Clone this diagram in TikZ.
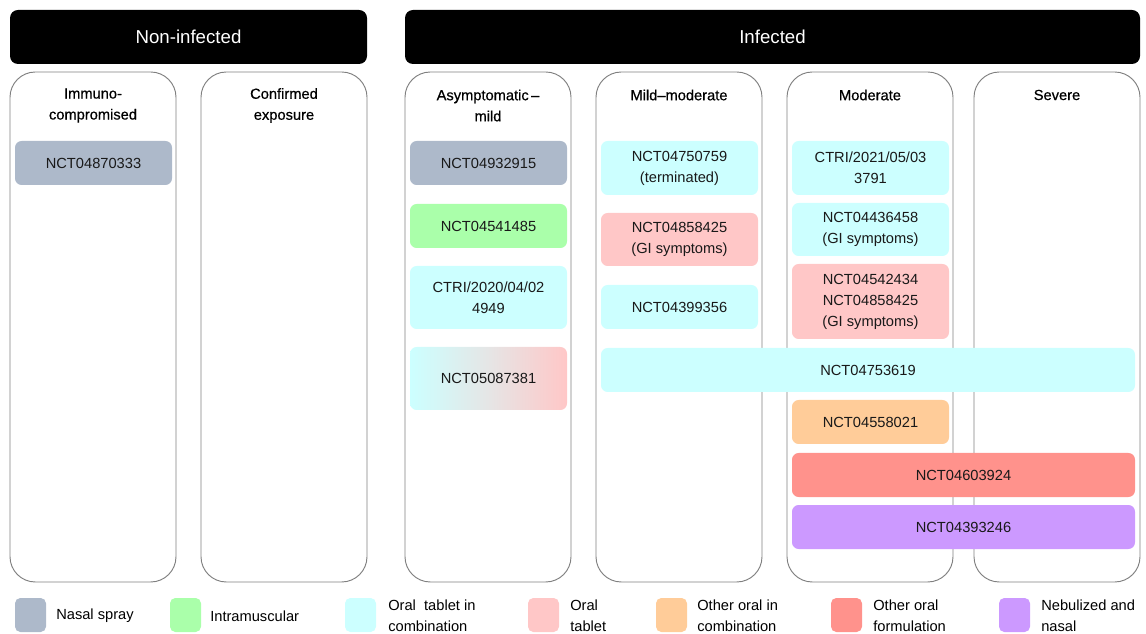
\documentclass[tikz,border=0pt]{standalone}
\usepackage{fontspec}
\setmainfont{Liberation Sans}
\newfontfamily\titlefont[FakeBold=0.6,Ligatures=TeX]{Liberation Sans}
\definecolor{cgray}{HTML}{ADB9CA}
\definecolor{cgreen}{HTML}{AAFFAA}
\definecolor{ccyan}{HTML}{CCFFFF}
\definecolor{cpink}{HTML}{FFC7C7}
\definecolor{corange}{HTML}{FFCC99}
\definecolor{cred}{HTML}{FF928C}
\definecolor{cpurple}{HTML}{CC99FF}
\definecolor{cborder}{HTML}{7F7F7F}
\tikzset{
  sz/.style 2 args={minimum width=#1*0.75pt, minimum height=#2*0.75pt},
  header/.style={fill=black, rounded corners=6pt, text=white, inner sep=0pt, font=\fontsize{14}{17}\selectfont},
  col/.style={draw=cborder, line width=0.7pt, rounded corners=19pt, inner sep=0pt, sz={166}{510}},
  ctitle/.style={align=center, font=\titlefont\fontsize{11}{15.75}\selectfont},
  bx/.style={rounded corners=5pt, inner sep=0pt, align=center, text=black!90, font=\fontsize{11}{15.75}\selectfont},
  swatch/.style={rounded corners=4pt, inner sep=0pt, sz={31}{34}},
  leg/.style={anchor=west, align=left, inner sep=0pt, font=\fontsize{11}{15.75}\selectfont}
}
\begin{document}
\begin{tikzpicture}[x=0.75pt,y=-0.75pt]
\useasboundingbox (0,0) rectangle (1146,634);
% headers
\node[header, sz={357}{54}] (hnon) at (188.5,37) {Non-infected};
\node[header, sz={735}{54}] (hinf) at (772.5,37) {Infected};
% columns
\node[col] (c1) at (93,327) {};
\node[col] (c2) at (284,327) {};
\node[col] (c3) at (488,327) {};
\node[col] (c4) at (679,327) {};
\node[col] (c5) at (870,327) {};
\node[col] (c6) at (1057,327) {};
% column titles
\node[ctitle] (t1) at (93,105.5) {Immuno-\\compromised};
\node[ctitle] (t2) at (284,105.5) {Confirmed\\exposure};
\node[ctitle] (t3) at (488,105.5) {Asymptomatic\,–\\mild};
\node[ctitle] (t4) at (679,95) {Mild–moderate};
\node[ctitle] (t5) at (870,95) {Moderate};
\node[ctitle] (t6) at (1057,95) {Severe};
% boxes
\node[bx, fill=cgray, sz={157}{44}] (b1) at (93.5,163) {NCT04870333};
\node[bx, fill=cgray, sz={157}{44}] (b2) at (488.5,163) {NCT04932915};
\node[bx, fill=cgreen, sz={157}{44}] (b3) at (488.5,226) {NCT04541485};
\node[bx, fill=ccyan, sz={157}{63}] (b4) at (488.5,297.5) {CTRI/2020/04/02\\4949};
\node[bx, left color=ccyan, right color=cpink, middle color=black!10!white, sz={157}{63}] (b5) at (488.5,378.5) {NCT05087381};
\node[bx, fill=ccyan, sz={157}{54}] (b6) at (679.5,168) {NCT04750759\\(terminated)};
\node[bx, fill=cpink, sz={157}{53}] (b7) at (679.5,239.5) {NCT04858425\\(GI symptoms)};
\node[bx, fill=ccyan, sz={157}{44}] (b8) at (679.5,307) {NCT04399356};
\node[bx, fill=ccyan, sz={534}{44}] (b9) at (868,370) {NCT04753619};
\node[bx, fill=ccyan, sz={157}{54}] (b10) at (870.5,168) {CTRI/2021/05/03\\3791};
\node[bx, fill=ccyan, sz={157}{53}] (b11) at (870.5,229.5) {NCT04436458\\(GI symptoms)};
\node[bx, fill=cpink, sz={157}{75}] (b12) at (870.5,301.5) {NCT04542434\\NCT04858425\\(GI symptoms)};
\node[bx, fill=corange, sz={157}{44}] (b13) at (870.5,422) {NCT04558021};
\node[bx, fill=cred, sz={343}{44}] (b14) at (963.5,475) {NCT04603924};
\node[bx, fill=cpurple, sz={343}{44}] (b15) at (963.5,527) {NCT04393246};
% legend
\node[swatch, fill=cgray] (s1) at (30.5,615) {};
\node[swatch, fill=cgreen] (s2) at (185.5,615) {};
\node[swatch, fill=ccyan] (s3) at (360.5,615) {};
\node[swatch, fill=cpink] (s4) at (543.5,615) {};
\node[swatch, fill=corange] (s5) at (671.5,615) {};
\node[swatch, fill=cred] (s6) at (846.5,615) {};
\node[swatch, fill=cpurple] (s7) at (1014.5,615) {};
\node[leg] (l1) at (56,616) {Nasal spray};
\node[leg] (l2) at (210,616) {Intramuscular};
\node[leg] (l3) at (388,616) {Oral\ \ tablet in\\combination};
\node[leg] (l4) at (570,616) {Oral\\tablet};
\node[leg] (l5) at (697,616) {Other oral in\\combination};
\node[leg] (l6) at (873,616) {Other oral\\formulation};
\node[leg] (l7) at (1041,616) {Nebulized and\\nasal};
\end{tikzpicture}
\end{document}
